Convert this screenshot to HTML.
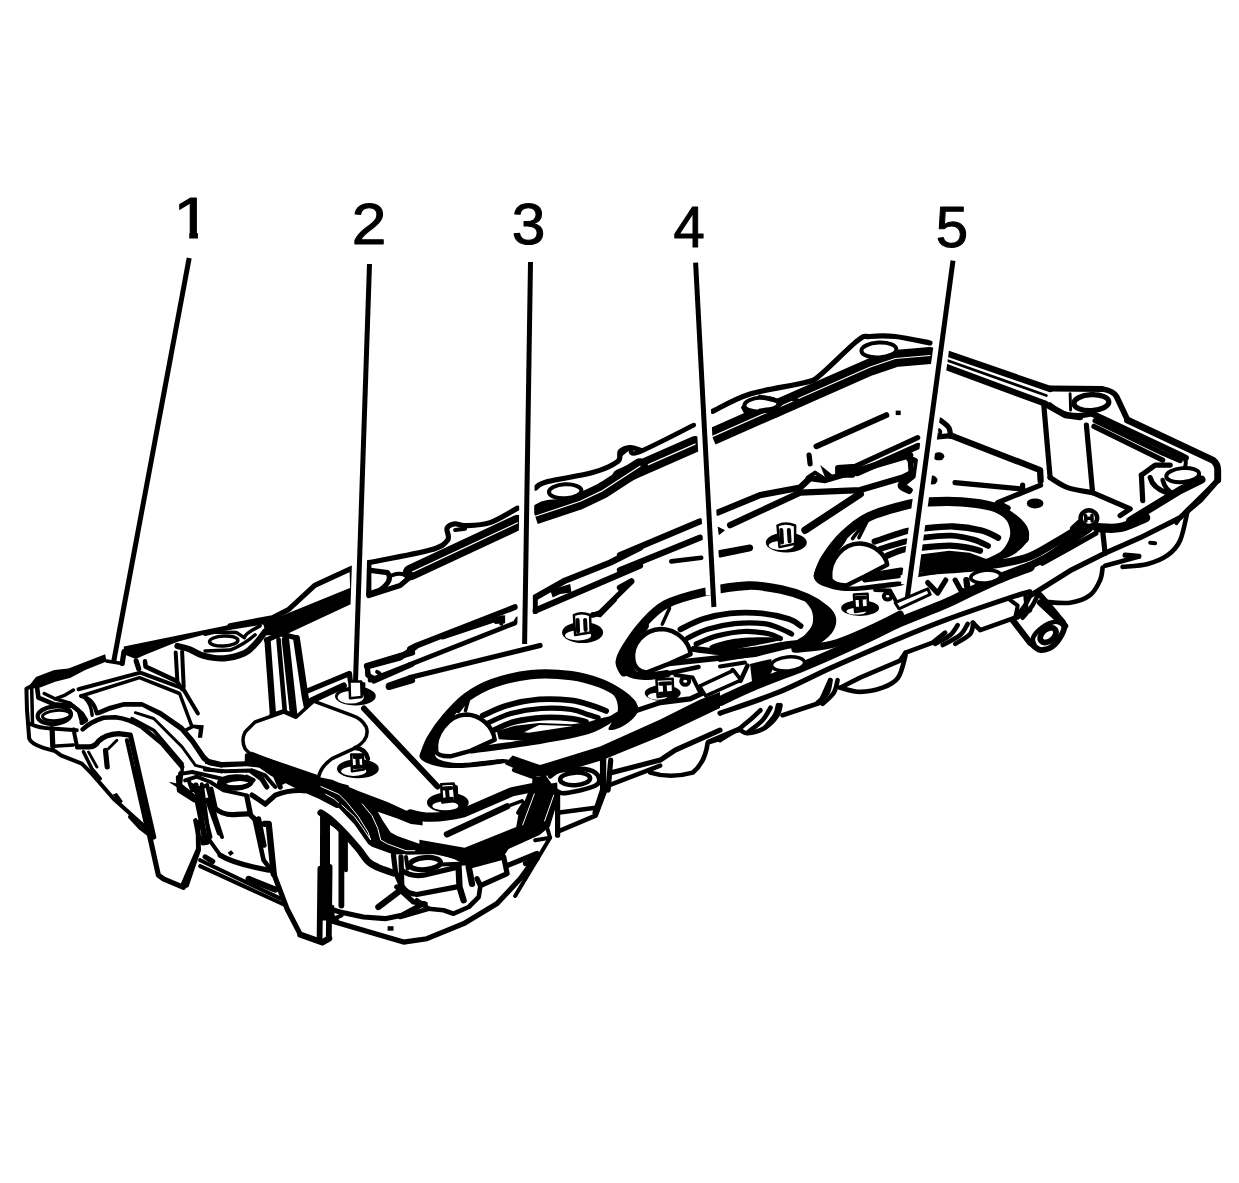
<!DOCTYPE html>
<html><head><meta charset="utf-8"><title>Cylinder head cover</title>
<style>
html,body{margin:0;padding:0;background:#fff;}
body{width:1239px;height:1183px;overflow:hidden;position:relative;font-family:"Liberation Sans",sans-serif;}
svg{position:absolute;left:0;top:0;display:block;}
.lbl{font-family:"Liberation Sans",sans-serif;font-size:56.5px;fill:#000;stroke:#000;stroke-width:1px;stroke-linejoin:round;}
</style></head>
<body>
<svg width="1239" height="1183" viewBox="0 0 1239 1183">
<g fill="none" stroke="#000" stroke-linecap="round" stroke-linejoin="round">
<path d="M 105.2 654.2 L 106.5 661.4 L 85.2 670.1 L 70.1 678.1 L 55.1 681.8 L 40.1 687.6 L 32.5 688.4 L 26.7 688.8 L 31.7 682.6 L 35.9 677.1 L 54.3 670.1 L 68.5 668.4 Z" fill="#000" stroke="none"/>
<path d="M 31.7 685.9 L 26.4 688.8 L 27 710.2 L 29.2 738.6 Q 30.9 743.6 43.4 747.8 L 55.1 751.1 L 60.9 755.3 L 81.8 763.6 L 91.8 773.6 L 113.6 798.7 L 147 828.8 L 153.7 837" stroke-width="4"/>
<path d="M 112.7 794.5 L 116.9 792.9 L 122.8 801.2 L 120.2 804.6 Z" fill="#000" stroke="none"/>
<path d="M 29.2 723.5 Q 40.1 728.5 51.8 728.5 L 76.8 730.2" stroke-width="4"/>
<path d="M 52.1 728.5 L 52.8 746.9" stroke-width="5.2"/>
<path d="M 73.5 729.4 L 77.1 746.9" stroke-width="4"/>
<path d="M 52.8 746.2 L 73.5 744.9" stroke-width="3.5"/>
<path d="M 31.7 688.4 L 32.5 723.5" stroke-width="3.5"/>
<ellipse cx="54.3" cy="715.2" rx="16.7" ry="8.7" stroke-width="4.3" transform="rotate(-5 54.3 715.2)"/>
<ellipse cx="56.4" cy="715.5" rx="14" ry="5" stroke-width="2.9" transform="rotate(-5 56.4 715.5)"/>
<path d="M 37.1 687.6 L 38.4 697.6 L 54.3 704.3 L 72.6 706 L 81.8 713.5 L 86 720.2 L 81.8 722.7" stroke-width="4.6"/>
<path d="M 44.2 693.5 L 55.1 698.8 L 70.1 703.1" stroke-width="3.5"/>
<path d="M 55.1 698.8 L 65.1 695.1 L 73.5 690.1" stroke-width="3.5"/>
<path d="M 70.1 703.5 L 78.5 710.2 L 81.8 721.9" stroke-width="4"/>
<path d="M 81 696 Q 93.5 698.5 96.9 713.5" stroke-width="4"/>
<path d="M 85.2 698.5 Q 91 703.5 92.2 715.2" stroke-width="3.5"/>
<path d="M 78.5 689.3 L 140.3 672.6 L 182.9 688.4 L 197.9 713.5" stroke-width="4"/>
<path d="M 81 696 L 139.5 677.6 L 179.6 693.5 L 192.1 726.9 L 185.4 730.2" stroke-width="3.5"/>
<path d="M 192.1 724.4 L 203.8 725.2 L 202.1 737.7 L 197.9 737.7 L 198.8 729.4 L 192.1 727.7 Z" fill="#000" stroke="none"/>
<path d="M 106.5 660.9 L 121.9 663.4" stroke-width="3.5"/>
<path d="M 145 661.4 L 145.6 666.7 L 176.2 680.9" stroke-width="4.6"/>
<path d="M 175.7 652.5 L 177.4 681.8 L 182.1 689.3" stroke-width="4"/>
<path d="M 182.1 651.7 L 183.7 686.8" stroke-width="4"/>
<path d="M 96.9 711 L 108.6 706 L 123.6 702.1 L 142 702.1 L 161.2 711 L 182.9 726 L 193.8 738.6 L 205.4 755.3 L 210.5 760.3 L 222 762.8 L 222 767.8 L 208.8 765.3 L 202.1 760.3 L 190.4 742.7 L 180.4 731 L 159.5 716 L 142 706.8 L 123.6 706.8 L 109.4 711 L 98.5 715.5 Z" fill="#000" stroke="none"/>
<path d="M 135.3 712.7 L 153.7 718.5 L 182.1 746.9 L 195.4 765.3 L 222 772" stroke-width="2.9"/>
<path d="M 131.9 718.5 L 153.7 730.2 L 182.1 763.6 L 182.1 772" stroke-width="3.5"/>
<path d="M 82.7 729.4 Q 90.2 721.9 103.5 717.7 L 115.2 717.2 Q 128.6 718.5 142 726.9 L 162 743.6 L 182.1 767" stroke-width="4.6"/>
<path d="M 77.6 746.9 L 88.5 746.9 Q 95.2 746.9 98.5 741.1 Q 105.2 734.4 118.6 733.6 L 130.3 735.2 L 153.7 837" stroke-width="5.2"/>
<path d="M 126.9 740.2 L 147 828.8" stroke-width="4"/>
<path d="M 105.5 750.3 L 107.2 767" stroke-width="5.2"/>
<path d="M 108.6 748.6 L 116.9 740.2" stroke-width="2.9"/>
<path d="M 83.5 751.9 L 91.8 768.6 L 100.2 778.7" stroke-width="3.5"/>
<path d="M 88.5 751.9 L 96.9 767" stroke-width="2.9"/>
<path d="M 168.7 782 L 180.4 785.3 L 182.1 790.4 Z" fill="#000" stroke="none"/>
<path d="M 180.7 773.6 L 179.6 785.3 L 192.1 795.4 L 197.1 800.4 L 204.6 837" stroke-width="5.2"/>
<path d="M 182.1 773.6 L 192.1 772 L 222 778.7" stroke-width="4"/>
<path d="M 188.7 780.3 L 192.1 790.4 L 207.1 785.3" stroke-width="4"/>
<path d="M 192.1 785.3 L 198.8 790.4 L 210.5 837" stroke-width="4"/>
<path d="M 207.1 785.3 L 215.5 817.1 L 222 837" stroke-width="4"/>
<path d="M 195.4 820.4 L 198.8 837" stroke-width="4.6"/>
<path d="M 205 634.3 L 215 632.1 L 236.7 632.6 L 244.3 637.6" stroke-width="3.5"/>
<ellipse cx="223.7" cy="641" rx="14.2" ry="5" stroke-width="3.5" transform="rotate(-3 223.7 641)"/>
<path d="M 205 651 L 230.1 650.1 Q 243.4 645.1 255.1 634.8" stroke-width="3.5"/>
<path d="M 244.3 637.6 Q 245.1 633.4 260.1 625.9" stroke-width="3.5"/>
<path d="M 267.5 640.1 L 273 715.3" stroke-width="6.3"/>
<path d="M 278.5 639.3 L 284.9 712" stroke-width="4.6"/>
<path d="M 285.5 640.1 L 293.5 713.6" stroke-width="7.5"/>
<path d="M 296.5 638.4 L 305.2 696.9 L 307.2 706.9" stroke-width="6.9"/>
<path d="M 266.5 640.1 L 280.2 633.8 L 296.9 638.1" stroke-width="5.2"/>
<path d="M 271.8 715.6 L 283.5 711.6 L 296 717.3 L 313.6 708.9" stroke-width="5.2"/>
<path d="M 305.2 691.9 L 349.5 673.5 L 350.3 681" stroke-width="5.2"/>
<path d="M 311.9 700.3 L 343.7 685.6" stroke-width="6.3"/>
<path d="M 283.5 712 L 255.1 722 L 245.1 732 Q 240.9 740.4 245.1 748.7 Q 250.1 755.4 260.1 757.1 L 318.6 777.1 Q 320.3 767.1 332 758.7 L 355.4 747.9 Q 370.4 738.7 366.2 727 Q 362 718.6 352 715.3 L 313.6 701.1 L 296 717.3 Z" fill="#fff" stroke-width="3.5"/>
<ellipse cx="355.4" cy="696.1" rx="20.4" ry="9.5" fill="#000" stroke="none" transform="rotate(0 355.4 696.1)"/>
<ellipse cx="350.7" cy="697.3" rx="13" ry="6.3" fill="#fff" stroke-width="0" transform="rotate(0 350.7 697.3)"/>
<path d="M 349.5 681.5 L 361.2 681.5 L 361.7 696.9 L 350 698.3 Z" fill="#fff" stroke-width="2.5"/>
<path d="M 361.2 681.5 L 365.4 682.7 L 365.4 690.2 L 361.7 691.9 Z" fill="#000" stroke="none"/>
<ellipse cx="357.9" cy="768.8" rx="20.9" ry="9.5" fill="#000" stroke="none" transform="rotate(0 357.9 768.8)"/>
<ellipse cx="353.7" cy="771.3" rx="12.5" ry="4.7" fill="#fff" stroke-width="0" transform="rotate(0 353.7 771.3)"/>
<path d="M 351.2 754.6 L 362.9 754.6 L 363.7 769.6 L 352 771.3 Z" fill="#fff" stroke-width="2.5"/>
<path d="M 354.5 757.1 L 360.4 757.1 M 357.4 757.1 L 357.9 767.1 M 354.5 767.1 L 361.2 766.7" stroke-width="4"/>
<path d="M 355.4 747.9 Q 365.4 748.7 367.9 758.7" stroke-width="4.6"/>
<path d="M 367 666 L 412 652.6" stroke-width="6.3"/>
<path d="M 367 666 L 368.4 675.5 L 373.7 681 L 412 664.3" stroke-width="5.2"/>
<path d="M 377.1 671.9 L 379.6 673.5" stroke-width="4"/>
<path d="M 388.8 686.9 L 412 680.2" stroke-width="6.3"/>
<path d="M 205 757.9 L 221.7 762.1 L 246.8 761.2 L 261.8 763.7 L 262.6 767.9 L 246.8 766.2 L 221.7 767.4 L 205 763.7 Z" fill="#000" stroke="none"/>
<path d="M 246.8 755.4 L 246.8 762.1 L 253.4 758.7 Z" stroke-width="4"/>
<path d="M 205 769.6 L 225 771.3 L 251.8 770.4 L 265.1 775.4 L 275.2 787" stroke-width="4"/>
<ellipse cx="236.7" cy="782.4" rx="14.7" ry="5" stroke-width="4.3" transform="rotate(-3 236.7 782.4)"/>
<path d="M 251.8 771.3 L 261.8 778.8 L 266.8 787" stroke-width="5.2"/>
<path d="M 268.5 764.6 L 271.8 764.6 L 271.8 767.9 L 268.5 767.9 Z" fill="#000" stroke="none"/>
<path d="M 280.2 775.4 L 281.8 782.1 L 295.2 775.4" stroke-width="5.2"/>
<path d="M 271.8 767.1 L 280.2 787" stroke-width="5.2"/>
<path d="M 298.6 782.1 L 311.9 778.8 L 347 787" stroke-width="4"/>
<path d="M 135 770 L 158.4 875.2 L 163.4 878.9 L 183.5 887.3" stroke-width="5.2"/>
<path d="M 180.1 885.3 L 196 848.5 L 195.5 820.1 L 200.2 820.1 L 201 850.2 L 188.5 886.9 L 183.5 888.9 Z" fill="#000" stroke="none"/>
<path d="M 130 816.8 L 140 827.6 L 148.4 834.3" stroke-width="4"/>
<path d="M 169.3 781.7 L 180.1 784.2 L 184.3 791.7 Z" fill="#000" stroke="none"/>
<path d="M 178.4 777.5 L 179.4 790.4 L 194.3 799.7" stroke-width="5.2"/>
<path d="M 185.1 780.4 L 196.8 776.7 L 210.2 782 L 223.6 790.4 L 246.9 795.4" stroke-width="4"/>
<path d="M 191.8 785 Q 193.5 791.7 198.5 792.6" stroke-width="4"/>
<ellipse cx="235.2" cy="782.5" rx="16" ry="6" stroke-width="4.6" transform="rotate(-3 235.2 782.5)"/>
<ellipse cx="237.3" cy="783.4" rx="12.7" ry="3.7" stroke-width="2.9" transform="rotate(-3 237.3 783.4)"/>
<path d="M 246.9 776.7 L 253.6 780 L 250.3 783.4" stroke-width="4"/>
<path d="M 211 789.2 L 215.2 808.4 Q 223.6 815.9 236.9 814.3 L 247.8 813.8" stroke-width="5.2"/>
<path d="M 246.9 796.7 L 250.6 815.1 L 254.5 818.8" stroke-width="5.2"/>
<path d="M 196 785 L 205.2 841.8" stroke-width="5.2"/>
<path d="M 201.8 784.2 L 209.4 840.2 L 220.2 855.2" stroke-width="4"/>
<path d="M 207.7 800.1 L 219.4 833.1" stroke-width="5.2"/>
<path d="M 201.8 837.7 L 207.2 836.8 L 207.7 842.7 L 202.7 843.5 Z" stroke-width="4"/>
<path d="M 220.2 855.2 Q 233.6 863.6 268.7 870.2" stroke-width="5.2"/>
<path d="M 254.5 818.8 L 263.6 860.2 L 273.7 873.6" stroke-width="4.6"/>
<path d="M 258.6 818.8 L 264 845.2" stroke-width="5.2"/>
<path d="M 264.5 823.8 L 268.7 823.8 L 273.7 873.6" stroke-width="6.3"/>
<path d="M 200.2 860.2 L 280.4 898.6" stroke-width="4"/>
<path d="M 200.2 866.1 L 285.4 905.3" stroke-width="4"/>
<path d="M 205.2 856.9 L 212.7 861.5" stroke-width="5.2"/>
<path d="M 248.6 878.9 L 275.3 889.6" stroke-width="6.3"/>
<path d="M 227.7 852.7 L 231.1 850.2 L 233.9 853.2 L 230.2 856 Z" fill="#000" stroke="none"/>
<path d="M 273.7 873.6 L 287 908.7 L 300.4 934.6" stroke-width="5.2"/>
<path d="M 300.4 934.6 L 322.1 942.4 L 329.1 938.4" stroke-width="6.3"/>
<path d="M 320.1 810.9 L 330 816.4 L 330 920.4 L 319.8 920.4 Z" fill="#000" stroke="none"/>
<path d="M 320.4 868.6 L 319.6 939.1" stroke-width="5.8"/>
<path d="M 329.6 866.9 L 328.8 937.1" stroke-width="5.8"/>
<path d="M 329.6 821.8 L 337 826.8" stroke-width="4.6"/>
<path d="M 330.5 905.3 L 333 917 L 337 920.4" stroke-width="4"/>
<path d="M 252 795.1 L 265.3 804.2 L 275.3 795.1 Q 290.4 789.2 307.1 790.9 L 320.4 796.7 L 337 805.4" stroke-width="5.2"/>
<ellipse cx="447.8" cy="802.6" rx="20.9" ry="10" fill="#000" stroke="none" transform="rotate(0 447.8 802.6)"/>
<ellipse cx="445.3" cy="805.9" rx="13" ry="4.3" fill="#fff" stroke-width="0" transform="rotate(0 445.3 805.9)"/>
<path d="M 441.1 784.2 L 453.6 783.4 L 455.3 800.9 L 442.3 802.6 Z" fill="#fff" stroke-width="2.5"/>
<path d="M 453.6 783.4 L 457.8 785.9 L 458.3 798.4 L 455.3 800.9 Z" fill="#000" stroke="none"/>
<path d="M 443.6 788.4 L 451.1 788 M 446.9 788.4 L 447.8 799.2 M 443.6 799.7 L 452 798.7" stroke-width="4"/>
<path d="M 410.2 813.8 Q 430.2 821 463.6 812.8 L 512.1 791.7 L 537 786.7" stroke-width="9.2"/>
<path d="M 513.8 770 L 534.6 777.5 L 533.8 786.7" stroke-width="4"/>
<path d="M 468.7 856 L 537 831" stroke-width="4"/>
<path d="M 446.9 834.3 L 507.1 806.4" stroke-width="6.3"/>
<path d="M 507.1 806.4 L 522.1 800.9" stroke-width="3.5"/>
<path d="M 518.8 812.6 L 524.6 803.4" stroke-width="5.2"/>
<path d="M 341.4 832.1 L 341.4 905.6" stroke-width="5.8"/>
<path d="M 345.9 838.5 L 345.9 870.2" stroke-width="4"/>
<path d="M 330 909 L 340 912 L 363.4 917 L 385.1 918.7 L 401.8 915.3 L 423.6 903.6" stroke-width="5.2"/>
<path d="M 330 920.4 L 403.5 942.1 L 426.9 938.7 L 463.6 923.7 L 497.1 903.6 L 520.4 878.6 L 531.3 863.6" stroke-width="5.2"/>
<path d="M 330 920.4 L 341.7 915.3" stroke-width="4"/>
<path d="M 329.2 905.3 L 334.2 905.3 L 334.2 920.4 L 329.2 920.4 Z" fill="#000" stroke="none"/>
<path d="M 393.5 855.2 L 395.5 871.9 L 401.8 886.9" stroke-width="5.2"/>
<path d="M 401 856.9 L 401.8 885.3 Q 405.2 893.6 416.9 894.5 L 457 886.9" stroke-width="5.2"/>
<path d="M 401.8 870.2 Q 410.2 876.9 423.6 875.2 L 458.6 866.9" stroke-width="5.2"/>
<path d="M 406 856.9 L 407.7 868.6" stroke-width="4"/>
<ellipse cx="425.2" cy="863.6" rx="15.4" ry="6" stroke-width="5.2" transform="rotate(-5 425.2 863.6)"/>
<path d="M 406.8 852.7 L 436.9 851.9 L 453.6 856.9" stroke-width="4"/>
<path d="M 440.3 864.4 L 465.3 863.6" stroke-width="4"/>
<path d="M 458.6 866.9 L 459.5 886.9 L 463.6 900.3" stroke-width="6.3"/>
<path d="M 468.7 866.9 L 472 883.9" stroke-width="6.3"/>
<path d="M 472 865.6 L 503.7 856.9 L 507.1 873.6 L 480.4 885.6 L 477 878.6" stroke-width="5.2"/>
<path d="M 507.1 865.6 L 537 853.5" stroke-width="5.2"/>
<path d="M 480.4 885.6 L 478.7 897 L 468.7 907 L 453.6 913.7 L 443.6 910.3 L 428.6 908.7 L 416.9 900.3" stroke-width="4.6"/>
<path d="M 428.6 908.7 L 400.2 917" stroke-width="4.6"/>
<path d="M 378.4 907 L 400.2 890.6" stroke-width="6.3"/>
<path d="M 396.8 886.9 L 413.5 902 L 425.2 904" stroke-width="5.2"/>
<path d="M 387.6 926.2 L 393.5 926.2 L 393.5 930.7 L 387.6 930.7 Z" fill="#000" stroke="none"/>
<path d="M 525.5 863.6 L 537 858.5" stroke-width="5.2"/>
<path d="M 251.4 751.5 L 300 771 L 314.6 776.3 L 332.1 779.7 L 358.4 790.9 L 387.5 802.1 L 411.9 813.3 L 420 812 L 422.6 812.8 L 422.6 825.4 L 420 825 L 410.9 824 L 397.3 818.6 L 377.8 811.8 L 382.7 820.6 L 390.5 832.3 L 397.3 836.1 L 412.8 841.5 L 420 843.9 L 422.6 844.4 L 422.6 852.7 L 420 853.7 L 393.4 854.6 L 372 846.8 L 368.1 843.9 L 354.5 824.5 L 338.9 807.9 L 324.3 799.2 L 309.7 791.9 L 300 790.4 L 270.8 775.8 L 251.4 762.2 Z" fill="#000" stroke="none"/>
<path d="M 320.9 786.5 L 338.9 794.3 L 346.7 802.1 L 358.4 816.7 L 368.1 832.3 L 370.5 839.6" stroke="#fff" stroke-width="1"/>
<path d="M 325.8 794.3 L 334 798.7 L 338.4 802.6" stroke="#fff" stroke-width="1"/>
<path d="M 341.8 805 L 354.5 816.7 L 362.3 827.4 L 370.5 839.6" stroke="#fff" stroke-width="1"/>
<path d="M 362.3 804 L 372 815.7 L 377.8 828.4 L 380.7 840 L 387.5 843.9 L 406 850.7 L 414.8 850.7" stroke="#fff" stroke-width="1"/>
<path d="M 320.9 812.8 C 322.6 814 327.3 816.9 331.1 820.1 C 334.9 823.3 339.2 827.5 343.8 832.3 C 348.3 837 354.3 843.9 358.4 848.8 C 362.4 853.7 364.9 858.4 368.1 861.4 C 371.3 864.5 373.6 865.3 377.8 867.3 C 382 869.2 390.8 872.1 393.4 873.1" stroke-width="6.9"/>
<path d="M 410 648.8 L 415 646.3 L 515.1 607" stroke-width="5.8"/>
<path d="M 442.5 637.5 L 502.6 617.5 L 501.3 623.8" stroke-width="4"/>
<path d="M 410 664.5 L 515.1 623 L 517.6 618.8" stroke-width="4.6"/>
<path d="M 410 677.6 L 540.1 645.5" stroke-width="5.2"/>
<ellipse cx="582.6" cy="632.5" rx="20.5" ry="10.5" fill="#000" stroke="none" transform="rotate(0 582.6 632.5)"/>
<ellipse cx="578.1" cy="635.5" rx="13" ry="5" fill="#fff" stroke-width="0" transform="rotate(0 578.1 635.5)"/>
<path d="M 573.9 615 Q 581.4 611.3 590.1 615 L 590.6 632.5 L 575.1 635 Z" fill="#fff" stroke-width="2.5"/>
<path d="M 577.6 620 L 578.1 631.3 M 585.1 620 L 585.6 630" stroke-width="4"/>
<path d="M 592.6 613.8 L 600.1 615.5 L 615.2 600" stroke-width="3.5"/>
<ellipse cx="662.7" cy="693.1" rx="18" ry="8" fill="#000" stroke="none" transform="rotate(0 662.7 693.1)"/>
<ellipse cx="657.7" cy="696.3" rx="10" ry="3.5" fill="#fff" stroke-width="0" transform="rotate(0 657.7 696.3)"/>
<path d="M 656.4 679.6 L 672.7 678.8 L 673.2 695.1 L 657.7 697.1 Z" fill="#fff" stroke-width="2.5"/>
<path d="M 660.2 683.8 L 670.2 683.3 M 664.7 683.8 L 665.2 693.8 M 660.2 693.8 L 671.4 693.1" stroke-width="4"/>
<ellipse cx="685.2" cy="681.3" rx="4" ry="3.5" stroke-width="4" transform="rotate(0 685.2 681.3)"/>
<path d="M 675.2 675.1 L 692.7 677.6 L 700.2 692.6" stroke-width="4"/>
<path d="M 512.6 755.6 L 540.1 765.1 L 600.1 746.4 L 660.2 719.6 L 700.2 699.6 L 720 692.1 L 720 708.1 L 660.2 736.4 L 602.6 760.1 L 550.1 775.6 L 532.6 777.1 L 504.6 763.9 Z" fill="#000" stroke="none"/>
<path d="M 637.7 710.1 L 660.2 702.6 L 690.2 698.8 L 720 685.1" stroke-width="5.2"/>
<ellipse cx="575.1" cy="778.9" rx="15" ry="6.3" stroke-width="4.6" transform="rotate(-3 575.1 778.9)"/>
<path d="M 550.1 776.4 C 551.8 775.4 554.3 771.8 560.1 770.6 C 566 769.4 578.9 768.4 585.1 769.1 C 591.4 769.9 595.9 772.4 597.6 775.1 C 599.4 777.9 601.1 782.6 595.6 785.6 C 590.2 788.6 571.7 792.3 565.1 793.1 C 558.6 794 557.8 791.1 556.4 790.6" stroke-width="4.6"/>
<path d="M 603.1 756.4 L 603.1 790.1 L 595.6 812.7" stroke-width="6.3"/>
<path d="M 610.7 760.1 L 608.1 790.1" stroke-width="5.2"/>
<path d="M 557.6 793.1 L 557.6 835.2" stroke-width="5.2"/>
<path d="M 557.6 812.7 L 595.6 807.7" stroke-width="4.6"/>
<path d="M 560.1 830.7 L 595.6 815.7 L 605.1 790.6" stroke-width="4.6"/>
<path d="M 535.1 840.2 L 550.1 837.7 L 515.1 896" stroke-width="4"/>
<path d="M 546.4 825.2 L 550.1 837.7" stroke-width="4"/>
<path d="M 610.2 773.1 L 660.2 760.1 L 675.2 750.1 L 720 730.1" stroke-width="5.2"/>
<path d="M 608.1 785.6 L 660.2 765.6" stroke-width="4.6"/>
<path d="M 650.2 772.6 Q 670.2 778.9 692.7 772.6 Q 705.2 762.6 707.7 742.6 L 720 738.9" stroke-width="4.6"/>
<path d="M 720 701.2 C 725.4 698.7 738.8 691.9 752.5 686.2 C 766.3 680.4 790.1 671.6 802.6 666.6 C 815.1 661.6 816.3 661.1 827.6 656.1 C 838.8 651.1 858 642.3 870.1 636.6 C 882.2 630.9 887.6 627.6 900.1 622.1 C 912.6 616.6 933.5 608.9 945.2 603.8 C 956.8 598.8 961 596.1 970.2 591.8 C 979.4 587.5 990.2 582.2 1000.2 578.1 C 1010.2 573.9 1025 568.7 1030 566.8" stroke-width="9.8"/>
<path d="M 795.1 649.1 C 801.3 648.3 820.1 647.5 832.6 644.1 C 845.1 640.8 858.9 634.1 870.1 629.1 C 881.4 624.1 895.1 616.8 900.1 614.4" stroke-width="7.5"/>
<ellipse cx="788.1" cy="663.9" rx="16.5" ry="7" fill="#fff" stroke-width="3.5" transform="rotate(-5 788.1 663.9)"/>
<path d="M 750 663.9 L 771.3 658.9 L 772.5 670.1 L 767.5 680.2 L 752.5 685.2 Z" fill="#000" stroke="none"/>
<path d="M 732.5 670.1 L 740.5 680.7 L 747.5 665.6" stroke-width="4.6"/>
<path d="M 720 660.1 L 750 655.1" stroke-width="4"/>
<path d="M 720 666.4 L 745 662.6" stroke-width="4"/>
<path d="M 720 713.2 C 729.6 709.8 758.8 700.3 777.5 692.7 C 796.3 685 813 675.9 832.6 667.1 C 852.2 658.4 876.4 648 895.1 640.1 C 913.9 632.3 926 627.2 945.2 620.1 C 964.3 613 996.1 602.3 1010.2 597.6 C 1024.4 592.9 1026.7 592.8 1030 591.8" stroke-width="5.2"/>
<ellipse cx="860.1" cy="608.1" rx="19" ry="7.8" fill="#000" stroke="none" transform="rotate(0 860.1 608.1)"/>
<ellipse cx="856.4" cy="611.3" rx="10" ry="3.3" fill="#fff" stroke-width="0" transform="rotate(0 856.4 611.3)"/>
<path d="M 853.9 594.6 L 867.6 593.8 L 868.1 610.1 L 855.1 612.1 Z" fill="#fff" stroke-width="2.5"/>
<path d="M 856.4 598.1 L 865.1 597.6 M 860.6 598.1 L 861.1 608.8 M 856.4 608.8 L 866.4 608.1" stroke-width="4"/>
<ellipse cx="887.6" cy="596.3" rx="3.8" ry="3.3" stroke-width="4" transform="rotate(0 887.6 596.3)"/>
<path d="M 875.1 590.1 L 890.1 590.6 L 895.6 600.6" stroke-width="4"/>
<path d="M 895.1 602.6 L 927.7 588.8 L 930.2 594.3 L 898.9 608.8 Z" fill="#fff" stroke-width="3"/>
<ellipse cx="786.3" cy="542.5" rx="20.5" ry="10" fill="#000" stroke="none" transform="rotate(0 786.3 542.5)"/>
<ellipse cx="781.3" cy="545.5" rx="12.5" ry="4.5" fill="#fff" stroke-width="0" transform="rotate(0 781.3 545.5)"/>
<path d="M 777.5 525.5 Q 785.5 521.3 795.1 525.5 L 795.1 543.8 L 779.5 547.1 Z" fill="#fff" stroke-width="2.5"/>
<path d="M 781.3 530 L 782 542.5 M 788.8 530 L 789.6 541.3" stroke-width="4"/>
<path d="M 720 553.1 L 750 547.6" stroke-width="6.3"/>
<ellipse cx="985.7" cy="576.6" rx="15" ry="6.3" fill="#fff" stroke-width="3.5" transform="rotate(-5 985.7 576.6)"/>
<path d="M 955.2 580.1 L 960.7 590.1 L 970.2 593.1" stroke-width="5.2"/>
<path d="M 966.4 580.1 L 967.7 590.1" stroke-width="6.3"/>
<path d="M 927.7 582.6 L 937.7 593.1 L 945.7 580.1" stroke-width="5.2"/>
<path d="M 720 740.2 C 722.9 738.5 732.9 731.4 737.5 730.2 C 742.1 729 742.9 733.6 747.5 733.2 C 752.1 732.8 760 730.7 765 727.7 C 770 724.7 775 718.9 777.5 715.2 C 780.1 711.4 780 706.8 780.5 705.2" stroke-width="4.6"/>
<path d="M 782.5 715.2 L 820.1 702.7 L 830.1 680.2" stroke-width="4.6"/>
<path d="M 840.1 687.7 L 860.1 677.6 L 900.1 660.6 L 905.6 652.6" stroke-width="4.6"/>
<path d="M 840.1 687.7 C 843.4 688.4 853 691.9 860.1 691.9 C 867.2 691.9 876.3 690 882.6 687.7 C 889 685.3 894.3 683.1 898.1 677.6 C 902 672.2 904.4 658.9 905.6 655.1" stroke-width="4.6"/>
<path d="M 905.6 652.6 L 932.7 642.6 L 945.2 632.6" stroke-width="4.6"/>
<path d="M 972.7 622.6 L 980.2 630.1 L 1015.2 617.6 L 1030 610.1" stroke-width="4.6"/>
<path d="M 737.5 730.2 C 740 728.1 748.7 721 752.5 717.7 C 756.4 714.3 759.2 711.4 760.5 710.2" stroke-width="4.6"/>
<path d="M 747.5 732.7 C 750 730.6 758.7 724.3 762.5 720.2 C 766.4 716 769.2 709.8 770.5 707.7" stroke-width="4.6"/>
<path d="M 765 727.7 C 766.7 725.6 772.9 718.9 775 715.2 C 777.2 711.4 777.5 706.8 778 705.2" stroke-width="4.6"/>
<path d="M 817.6 702.7 C 819.2 701 825.4 696.4 827.6 692.7 C 829.7 688.9 830.1 682.2 830.6 680.2" stroke-width="4.6"/>
<path d="M 822.6 703.9 C 824.5 702 831.3 696.6 833.8 692.7 C 836.3 688.7 837 682.2 837.6 680.2" stroke-width="4.6"/>
<path d="M 935.2 643.9 C 937.7 642.4 946.4 638.2 950.2 635.1 C 953.9 632 956.4 626.8 957.7 625.1" stroke-width="4.6"/>
<path d="M 942.7 645.1 C 945.6 643.5 956 638.7 960.2 635.1 C 964.3 631.6 966.4 625.7 967.7 623.9" stroke-width="4.6"/>
<path d="M 955.2 643.9 C 957.7 642.2 967.2 637.4 970.2 633.9 C 973.2 630.3 972.7 624.5 973.2 622.6" stroke-width="4.6"/>
<path d="M 1012.7 620.1 L 1030 642.6" stroke-width="6.3"/>
<path d="M 1010.2 600.1 L 1017.7 605.6 L 1015.2 617.6" stroke-width="4"/>
<path d="M 1025.2 595.1 L 1026.7 610.1 L 1017.7 617.6" stroke-width="4"/>
<path d="M 948 353.8 L 1050.1 389" stroke-width="6.3"/>
<path d="M 946.3 367 L 1043.8 403.1 L 1065.1 415.1 L 1080.1 417.1" stroke-width="6.3"/>
<path d="M 947.5 360.5 L 1046.3 395.5" stroke-width="2.9"/>
<path d="M 1050.1 388.5 L 1102.6 389 Q 1113.9 391.3 1116.4 396.3 L 1127.6 420.1" stroke-width="5.8"/>
<path d="M 1127.6 420.1 L 1212.7 460.1 Q 1217.7 463.9 1217.7 470.1 L 1217.7 480.1" stroke-width="6.9"/>
<path d="M 1217.7 480.1 L 1200.2 500.1 L 1187.7 510.6" stroke-width="5.8"/>
<ellipse cx="1091.4" cy="402.6" rx="17.5" ry="8" stroke-width="5.2" transform="rotate(-3 1091.4 402.6)"/>
<path d="M 1070.1 393.8 L 1070.6 410.1" stroke-width="2.9"/>
<path d="M 1050.1 405.1 Q 1065.1 420.1 1092.6 413.8" stroke-width="5.2"/>
<path d="M 1092.6 413.8 L 1180.2 455.1 L 1185.7 458.1" stroke-width="6.3"/>
<path d="M 1095.1 420.6 L 1162.7 453.1 L 1180.2 460.6" stroke-width="5.2"/>
<ellipse cx="1182.7" cy="475.1" rx="16.5" ry="7" fill="#fff" stroke-width="4" transform="rotate(-5 1182.7 475.1)"/>
<path d="M 1141.4 475.1 L 1155.2 465.1 L 1170.2 465.1" stroke-width="5.2"/>
<path d="M 1141.4 475.1 L 1142.7 500.6" stroke-width="5.2"/>
<path d="M 1150.2 477.6 Q 1152.7 487.6 1166.4 492.6" stroke-width="5.2"/>
<path d="M 1162.7 480.1 Q 1165.2 490.1 1173.9 493.9" stroke-width="4.6"/>
<path d="M 1180.2 457.6 Q 1187.7 457.6 1185.2 466.4" stroke-width="4"/>
<path d="M 1043.8 405.1 L 1050.1 477.6" stroke-width="5.2"/>
<path d="M 1086.4 425.1 L 1092.6 492.6" stroke-width="5.2"/>
<path d="M 1093.9 426.3 L 1162.7 460.1" stroke-width="5.2"/>
<path d="M 1050.1 477.6 C 1053 479.3 1060.5 485.1 1067.6 487.6 C 1074.7 490.1 1088.5 491.8 1092.6 492.6" stroke-width="5.2"/>
<path d="M 1092.6 492.6 L 1130.2 508.9 L 1120.1 515.6" stroke-width="5.2"/>
<path d="M 951.3 435.6 L 1040.1 470.1 L 1040.6 480.6" stroke-width="6.3"/>
<path d="M 1040.6 485.1 L 997.6 502.6 L 1008.1 508.1" stroke-width="5.2"/>
<path d="M 955 482.6 L 1022.6 489.1 L 1022.6 485.1" stroke-width="5.2"/>
<ellipse cx="1035.1" cy="503.4" rx="8.3" ry="5" fill="#000" stroke="none" transform="rotate(0 1035.1 503.4)"/>
<ellipse cx="938.8" cy="456.3" rx="5.5" ry="4" fill="#000" stroke="none" transform="rotate(0 938.8 456.3)"/>
<ellipse cx="932" cy="480.1" rx="5.5" ry="4.5" fill="#000" stroke="none" transform="rotate(0 932 480.1)"/>
<path d="M 940 420.1 C 941.5 421.3 947 424.9 948.8 427.6 C 950.5 430.3 950.2 434.9 950.5 436.3" stroke-width="5.2"/>
<ellipse cx="938" cy="432.1" rx="2.5" ry="2.3" stroke-width="3.5" transform="rotate(0 938 432.1)"/>
<path d="M 930 437.6 L 951.3 435.6" stroke-width="5.2"/>
<ellipse cx="1088.9" cy="518.1" rx="8.3" ry="7.8" fill="#fff" stroke-width="4.5" transform="rotate(0 1088.9 518.1)"/>
<path d="M 1085.6 515.6 L 1085.9 521.1 M 1091.9 515.4 L 1092.1 520.9 M 1085.9 518.4 L 1091.9 518.1" stroke-width="3.5"/>
<path d="M 1072.6 528.1 L 1080.1 521.4" stroke-width="5.2"/>
<path d="M 1130.2 520.6 L 1180.2 490.1 L 1201.5 479.6" stroke-width="8"/>
<path d="M 1097.1 527.6 C 1101 527.6 1112.1 529.3 1120.1 527.6 C 1128.2 526 1141.4 519.3 1145.7 517.6" stroke-width="9.2"/>
<path d="M 1080.1 527.6 C 1075.9 530.2 1064.3 537.6 1055.1 542.7 C 1045.9 547.7 1037.6 554.2 1025.1 558.2 C 1012.6 562.2 995.9 564.6 980 566.7 C 964.2 568.8 938.3 570 930 570.7" stroke-width="8"/>
<path d="M 1102.6 530.2 L 1105.1 553.2" stroke-width="5.2"/>
<path d="M 1212.7 485.6 L 1180.2 517.6 L 1140.2 537.7 L 1105.1 553.2 L 1070.1 570.7 L 1030.1 595.7" stroke-width="5.2"/>
<path d="M 1187.7 510.6 C 1186.4 515.6 1183.5 532.7 1180.2 540.2 C 1176.9 547.6 1173.1 551.2 1167.7 555.2 C 1162.3 559.1 1155.2 562 1147.7 563.9 C 1140.2 565.9 1126.8 566.4 1122.6 566.9" stroke-width="4.6"/>
<path d="M 1105.1 565.7 L 1138.2 556.7" stroke-width="4.6"/>
<path d="M 1102.6 567.7 C 1102.2 569.8 1102.2 575.6 1100.1 580.2 C 1098 584.8 1095.1 591.4 1090.1 595.2 C 1085.1 599 1077.6 601.6 1070.1 602.7 C 1062.6 603.8 1049.3 601.9 1045.1 601.7" stroke-width="4.6"/>
<path d="M 1180.2 517.6 L 1176.4 523.1" stroke-width="4"/>
<path d="M 1125.1 555.2 L 1138.9 556.4" stroke-width="5.2"/>
<path d="M 1015.1 617.7 C 1016.7 615.6 1022.6 608.9 1025.1 605.2 C 1027.6 601.5 1029.2 597.3 1030.1 595.7" stroke-width="4.6"/>
<path d="M 1022.6 617.7 C 1024.2 615.6 1030.1 609 1032.6 605.2 C 1035.1 601.5 1036.7 596.9 1037.6 595.2" stroke-width="4.6"/>
<path d="M 1040.1 602.7 L 1065.1 626" stroke-width="6.3"/>
<path d="M 1150.2 542.7 L 1155.2 543.2" stroke-width="4"/>
<path d="M 1030.1 642.6 C 1030.9 643.3 1033.2 645.8 1035.1 647.1 C 1037 648.3 1038.5 650.2 1041.4 650.1 C 1044.3 649.9 1049.2 649 1052.6 646.3 C 1056.1 643.6 1060.2 637.4 1062.1 633.8 C 1064.1 630.2 1064.8 627.4 1064.1 624.5 C 1063.5 621.7 1062.1 621.5 1058.1 616.5 C 1054.1 611.6 1043.1 598.6 1040.1 595" stroke-width="5.8"/>
<ellipse cx="1048.1" cy="635.1" rx="9" ry="6" stroke-width="5.8" transform="rotate(-40 1048.1 635.1)"/>
<path d="M 1035.1 646.3 C 1034.8 644.9 1031.9 640.8 1033.1 637.6 C 1034.4 634.3 1039 629.7 1042.6 627.1 C 1046.3 624.4 1051.6 622.2 1055.1 621.8 C 1058.7 621.4 1062.4 624.1 1063.9 624.5" stroke-width="4.6"/>
<path d="M 712.6 411.3 C 718.8 408.4 734.7 398.8 750.1 394 C 765.5 389.3 793.5 385.7 805.1 382.5 C 816.8 379.4 811.4 382 820.2 375 C 828.9 368 849.3 346.9 857.7 340.5 C 866 334.1 863.9 337.2 870.2 336.5 C 876.4 335.8 885.2 335.4 895.2 336.5 C 905.2 337.6 924.2 341.9 930 343" stroke-width="5.2"/>
<path d="M 743.8 407.6 C 744.9 408.8 745.7 413.6 750.1 415.1 C 754.5 416.6 764.3 417.4 770.1 416.6 C 776 415.7 781 412.4 785.1 410.1 C 789.3 407.7 792.5 404.2 795.1 402.6 C 797.7 400.9 799.7 400.5 800.6 400.1" stroke-width="5.2"/>
<path d="M 620 455.1 C 621.7 453.8 627.1 448 630 447.6 C 632.9 447.2 626.9 456.3 637.5 452.6 C 648.1 448.8 684.4 429.7 693.8 425.1" stroke-width="4.6"/>
<path d="M 620 477.1 L 695.1 444.1" stroke-width="16.1"/>
<path d="M 620 477.1 L 695.1 444.1" stroke="#fff" stroke-width="1.2"/>
<path d="M 712.1 436.6 L 800.1 397.8" stroke-width="17.2" stroke-linecap="butt"/>
<path d="M 800.1 397.8 L 870.2 367 L 895.2 358.5 L 930 355.5" stroke-width="17.2"/>
<path d="M 712.1 436.6 L 800.1 397.8 L 870.2 367 L 895.2 358.5 L 930 355.5" stroke="#fff" stroke-width="1.2"/>
<ellipse cx="761.4" cy="404.6" rx="17" ry="7" fill="#fff" stroke-width="4" transform="rotate(-3 761.4 404.6)"/>
<ellipse cx="878.9" cy="350" rx="17.5" ry="7.5" fill="#fff" stroke-width="4" transform="rotate(-3 878.9 350)"/>
<path d="M 816.4 446.3 L 886.4 415.1" stroke-width="5.8"/>
<path d="M 895.7 410.6 L 900.7 410.6 L 900.7 415.1 L 895.7 415.1 Z" fill="#000" stroke="none"/>
<path d="M 809.1 455.1 L 810.1 463.9" stroke-width="5.2"/>
<path d="M 917.7 437.6 L 855.2 466.4 L 837.7 467.6 L 837.7 475.1 L 852.7 475.1" stroke-width="5.2"/>
<path d="M 820.2 465.1 L 832.7 475.1 L 825.2 478.1 Z" fill="#000" stroke="none"/>
<path d="M 807.6 477.6 L 815.1 472.6 L 822.7 477.6" stroke-width="4"/>
<path d="M 717.6 512.6 L 760.1 495.1 L 800.1 487.6 L 810.1 478.1 L 825.2 480.1 L 910.2 455.1" stroke-width="6.3"/>
<path d="M 730.1 525.1 L 800.1 492.6 L 860.2 490.1 L 902.7 477.6 L 917.7 470.1" stroke-width="6.3"/>
<path d="M 805.1 530.2 L 860.2 493.9" stroke-width="7.5"/>
<path d="M 910.2 460.1 L 911.5 477.6 L 902.7 485.1 L 910.2 490.1" stroke-width="5.2"/>
<path d="M 620 555.2 L 700.1 521.4" stroke-width="6.3"/>
<path d="M 620 570.2 L 700.1 537.7" stroke-width="6.3"/>
<path d="M 717.6 526.4 L 725.1 530.2 L 718.8 535.2 Z" fill="#000" stroke="none"/>
<path d="M 671.3 561.4 L 701.3 557.7" stroke-width="4.6"/>
<path d="M 720.1 555.2 L 750.1 548.9" stroke-width="4.6"/>
<path d="M 620 587.7 L 631.3 581.4" stroke-width="6.3"/>
<path d="M 368.8 562.6 C 379 560.5 416.9 553.9 430.1 550.1 C 443.2 546.4 444.8 543.8 447.6 540.1 C 450.4 536.4 445.8 530.8 447.1 528.1 C 448.3 525.4 452.1 524.3 455.1 523.8 C 458.1 523.4 459.3 525.8 465.1 525.6 C 470.9 525.4 481.4 525.5 490.1 522.6 C 498.9 519.7 513.1 510.5 517.6 508.1" stroke-width="5.2"/>
<path d="M 535.2 488.1 C 537.2 487 538.1 484.1 547.7 481.6 C 557.3 479 581 475.9 592.7 472.6 C 604.4 469.2 613.1 465 617.7 461.5 C 622.3 458 618.1 453.9 620.2 451.5 C 622.3 449.2 626.9 447.8 630.2 447.5 C 633.5 447.3 638.4 449.6 640 450" stroke-width="5.2"/>
<path d="M 455.1 530.1 L 465.1 528.8" stroke-width="4"/>
<path d="M 535.2 507.6 C 537.2 506.7 540.2 503.8 547.7 502.6 C 555.2 501.3 572.7 501.7 580.2 500.1 C 587.7 498.4 589.3 495.1 592.7 492.6 C 596.1 490.1 599.4 486.3 600.7 485.1" stroke-width="5.2"/>
<path d="M 410.6 572.6 L 517.6 522.6" stroke-width="15.5"/>
<path d="M 412.6 571.9 L 517.6 522.8" stroke="#fff" stroke-width="1.2"/>
<path d="M 368.8 570.1 L 387.5 572.6 Q 393.8 580.1 380 590.1 L 368.8 593.9" stroke-width="5.2"/>
<path d="M 368.8 562.6 L 368.8 595.6 L 400.1 585.6 L 412.6 575.1" stroke-width="5.2"/>
<path d="M 392.5 575.1 Q 400.1 572.6 405.1 575.1" stroke-width="4"/>
<path d="M 535.2 516.3 L 580.2 501.3" stroke-width="16.1" stroke-linecap="butt"/>
<path d="M 580.2 501.3 L 602.7 490.6 L 640 466.3" stroke-width="16.1"/>
<path d="M 535.2 516.3 L 580.2 501.3 L 602.7 490.6 L 640 466.3" stroke="#fff" stroke-width="1.2"/>
<ellipse cx="565.2" cy="491.3" rx="16.3" ry="7" fill="#fff" stroke-width="4" transform="rotate(-3 565.2 491.3)"/>
<path d="M 367.5 666.4 L 400.1 657.7 L 415.1 647.2" stroke-width="5.8"/>
<path d="M 370 680.2 L 410.1 664.4" stroke-width="4.6"/>
<path d="M 367.5 666.4 L 367.5 675.2 L 376.3 679.2" stroke-width="4.6"/>
<path d="M 388.8 685.2 L 410.1 677.7" stroke-width="5.2"/>
<path d="M 490.1 617.7 L 505.1 615.2 L 505.1 623.2 L 495.1 623.9 Z" fill="#000" stroke="none"/>
<path d="M 535.2 597.6 L 565.2 580.6 L 610.2 562.6 L 640 547.6" stroke-width="6.3"/>
<path d="M 535.2 610.7 L 640 565.6" stroke-width="6.3"/>
<path d="M 535.2 597.6 L 535.2 611.4" stroke-width="5.2"/>
<path d="M 550.2 590.1 L 570.2 583.9 L 571.4 592.6 L 560.2 593.9 L 552.7 597.6 Z" fill="#000" stroke="none"/>
<path d="M 592.7 615.2 L 600.2 612.7 L 630.2 583.1" stroke-width="5.2"/>
<path d="M 533.2 778.1 L 545.5 774.9 L 551.4 783.6 L 557.2 782.4 L 557.5 791.1 L 528.8 791.1 L 532.5 786.8 Z" fill="#000" stroke="none"/>
<path d="M 419.4 839.7 L 464.6 847.7 L 516.2 827.1 L 518.2 815.8 L 523.3 804.2 L 529.1 790 L 559.5 790 L 555 809.4 L 549.8 826.8 L 539.5 834.9 L 508.5 849.1 L 503.3 857.1 L 469.7 867.2 L 451.7 857.8 L 419.4 851.3 Z" fill="#000" stroke="none"/>
<path d="M 534.3 793.9 L 522.7 824.9" stroke="#fff" stroke-width="1"/>
<path d="M 553.7 795.2 L 544.6 821" stroke="#fff" stroke-width="1"/>
<path d="M 123.8 646.5 L 267.9 617 L 280.8 613.4 L 286.5 622.7 L 267.9 623.8 L 244.6 627.4 L 208.5 633.6 L 177.5 641.8 L 145.2 654.8 L 135.6 658.9 L 123.8 654.2 Z" fill="#000" stroke="none"/>
<path d="M 122.2 663.5 L 124 651.7" stroke-width="5.2"/>
<path d="M 136.2 661 L 138.7 668.7" stroke-width="5.2"/>
<path d="M 177.5 646 C 179.4 646.5 184.8 647.4 189.1 649.1 C 193.4 650.7 197.5 654.2 203.3 655.8 C 209.1 657.3 217.1 658.8 224 658.4 C 230.9 657.9 239.4 655.6 244.6 653.2 C 249.9 650.8 252 647.5 255.5 643.9 C 258.9 640.3 263.7 633.6 265.3 631.5" stroke-width="6.3"/>
<path d="M 708.3 741.8 L 740.2 728.4" stroke-width="4.6"/>
<path d="M 623.9 672.2 C 623.2 670.5 619.5 666.1 619.8 662 C 620.1 658 621.8 654.4 625.7 648 C 629.6 641.7 636.4 631.3 643.1 624.1 C 649.8 616.8 655.7 609.7 665.7 604.4 C 675.7 599.1 689.2 595.6 703 592.4 C 716.7 589.3 735 586.1 748.2 585.6 C 761.4 585.2 772.3 587.7 782.1 589.7 C 791.9 591.7 799.8 594.4 806.9 597.6 C 814.1 600.8 820.9 605.4 825 608.9 C 829.2 612.4 831.2 615.1 831.8 618.6 C 832.4 622.2 831.1 626.6 828.4 630.4 C 825.8 634.2 818.1 639.4 816 641.2" stroke-width="8.6"/>
<path d="M 620.5 663.2 C 621.6 664.7 623.3 670 627.3 672.2 C 631.2 674.4 637.6 676 644.2 676.3 C 650.8 676.5 663.1 674.2 666.8 673.8" stroke-width="7.5"/>
<path d="M 666.8 673.8 L 698.5 667" stroke-width="4.6"/>
<path d="M 802.4 596.5 C 804.7 596.1 819.8 604.2 825 607.8 C 830.3 611.4 833.2 614.1 834.1 618 C 834.9 621.8 833.4 626.5 830 630.8 C 826.6 635.2 820.6 641.5 813.7 644 C 806.9 646.4 790.4 647.3 788.9 645.8 C 787.4 644.3 800.7 638.6 804.7 634.9 C 808.6 631.2 811.5 627.8 812.6 623.6 C 813.7 619.5 813.2 614.6 811.5 610.1 C 809.8 605.5 800.2 596.9 802.4 596.5 Z" fill="#000" stroke="none"/>
<path d="M 617.1 662 C 617.1 657.7 619.6 652.8 623.9 646.2 C 628.2 639.6 639 625.7 643.1 622.5 C 647.3 619.3 649.7 623.8 648.8 627 C 647.8 630.2 640.3 636.6 637.5 641.7 C 634.6 646.8 632.2 652.8 631.8 657.5 C 631.4 662.2 633.1 666.9 635.2 669.9 C 637.3 673 646.1 675.2 644.2 675.6 C 642.4 676 628.4 674.5 623.9 672.2 C 619.4 669.9 617.1 666.4 617.1 662 Z" fill="#000" stroke="none"/>
<path d="M 662.3 624.1 L 669.5 608.2" stroke-width="3.5"/>
<path d="M 680.4 629.3 C 684.2 627.6 694.7 621.7 703 619.1 C 711.3 616.5 720.3 614.4 730.1 613.4 C 739.9 612.5 752 612.5 761.8 613.4 C 771.5 614.4 782.4 617 788.9 619.1 C 795.3 621.2 798.7 624.7 800.6 625.9" stroke-width="5.8"/>
<path d="M 687.2 638.3 C 690.6 636.8 699.6 631.7 707.5 629.3 C 715.4 626.8 725.2 624.6 734.6 623.6 C 744 622.7 756.1 622.7 764 623.6 C 771.9 624.6 777.5 627.5 782.1 629.3 C 786.7 631 790 633.2 791.6 634" stroke-width="5.2"/>
<path d="M 696.2 644 C 699.6 642.6 708.6 638.1 716.6 636 C 724.5 634 735 631.9 743.7 631.5 C 752.3 631.1 762.4 632.6 768.5 633.8 C 774.6 635 778.3 637.7 780.3 638.5" stroke-width="5.2"/>
<path d="M 709.8 646.2 C 712 644.1 724.8 640.3 734.6 638.8 C 744.4 637.3 760.5 637.1 768.5 637.2 C 776.5 637.3 785.9 637.9 782.5 639.4 C 779.2 641 758.4 644.7 748.2 646.7 C 737.9 648.6 727.5 651.3 721.1 651.2 C 714.7 651.1 707.5 648.3 709.8 646.2 Z" fill="#000" stroke="none"/>
<path d="M 694 648.9 C 699.2 649.5 715 652 725.6 652.1 C 736.1 652.2 747.1 650.9 757.2 649.6 C 767.4 648.3 776.8 645.6 786.6 644.4 C 796.4 643.2 811.1 642.5 816 642.1" stroke-width="6.3"/>
<path d="M 666.8 663.6 L 755 654.1 L 786.6 646.2 L 816 642.1" stroke-width="5.8"/>
<path d="M 633.4 660.9 C 630.7 644 644.2 629.5 661.2 629 C 677 629.5 689.4 641.7 690.6 654.1 L 666.8 664.7 L 646.5 672.7 Q 635.2 671.1 633.4 660.9 Z" fill="#fff" stroke-width="4.5"/>
<path d="M 699.6 686.2 L 733.5 670.4 L 741 680.1 L 705.7 695.9 Z" fill="#fff" stroke-width="3.5"/>
<path d="M 262.3 620.7 L 276.4 617.7 L 294.6 610.6 L 351.1 587.4 L 352.3 603.6 L 288.5 633.2 L 280.4 635.2 L 266.3 635.2 Z" fill="#000" stroke="none"/>
<path d="M 230 625.8 L 272.4 617.7 L 288.5 609.6 L 314.7 585.4 L 352.1 568.2 L 352.7 587.4" stroke-width="5.2"/>
<path d="M 1024.9 568.1 C 1028.7 566.1 1040.3 561 1048.1 556.5 C 1055.8 551.9 1064.4 545.5 1071.2 540.8 C 1078.1 536.2 1086.2 530.5 1089.2 528.4" stroke-width="7.5"/>
<path d="M 1042.3 563.2 C 1047.1 560.5 1062.3 552.2 1071.2 547.2 C 1080.2 542.2 1091.8 535.6 1095.9 533.3" stroke-width="5.2"/>
<path d="M 424.1 755.9 C 425.3 753.1 427.5 745.2 431.2 738.8 C 434.9 732.4 440.4 724.5 446.3 717.6 C 452.2 710.7 458.8 703.1 466.5 697.4 C 474.2 691.7 482 687.1 492.7 683.3 C 503.5 679.5 517.9 675.9 531.1 674.6 C 544.2 673.3 559.8 674.2 571.4 675.6 C 583 677.1 592.3 680.1 600.7 683.3 C 609.1 686.5 616.7 691.3 621.9 694.8 C 627.1 698.3 630.3 702.5 632 704.1" stroke-width="9.2"/>
<path d="M 420.5 757.3 C 419.3 753.2 423.4 747.6 427.2 740.8 C 431 734 439.4 720.3 443.3 716.6 C 447.2 712.9 450.9 715.6 450.4 718.6 C 449.9 721.6 442.8 729.7 440.3 734.7 C 437.7 739.8 435.6 744.8 435.2 748.9 C 434.9 752.9 434 756.6 438.2 759 C 442.5 761.3 449.7 763 460.4 763 C 471.2 763 495.4 759 502.8 759 C 510.2 759 511.9 761.5 504.8 763 C 497.8 764.5 472.2 767.6 460.4 768 C 448.7 768.4 440.9 767.2 434.2 765.4 C 427.6 763.6 421.7 761.4 420.5 757.3 Z" fill="#000" stroke="none"/>
<path d="M 606.7 686.3 C 608.1 685.3 619.2 689.9 623.9 692.4 C 628.6 694.9 632.6 698.4 635 701.5 C 637.4 704.5 639.1 707.3 638.4 710.5 C 637.7 713.7 634 717.8 630.9 720.6 C 627.9 723.5 623.5 726.2 619.8 727.7 C 616.1 729.2 609.9 730.9 608.7 729.7 C 607.6 728.5 611.3 723.8 612.8 720.6 C 614.3 717.4 617.3 714.2 617.8 710.5 C 618.3 706.8 617.7 702.5 615.8 698.4 C 614 694.4 605.4 687.3 606.7 686.3 Z" fill="#000" stroke="none"/>
<path d="M 471.5 750.3 C 481.5 748.9 511.7 745.4 531.1 742.2 C 550.4 739 573.1 735.7 587.6 731.1 C 602 726.6 612.8 717.7 617.8 715" stroke-width="6.3"/>
<path d="M 482.6 715.6 C 486.7 713.9 497.4 708.2 506.9 705.5 C 516.3 702.8 528.4 700.3 539.1 699.4 C 549.9 698.6 562.7 699.4 571.4 700.4 C 580.2 701.5 585.8 703.7 591.6 705.5 C 597.4 707.2 603.7 710 606.1 710.9" stroke-width="5.8"/>
<path d="M 488.7 722.6 C 492.4 721.1 502.1 715.9 510.9 713.6 C 519.6 711.2 531.1 709.2 541.2 708.5 C 551.2 707.8 563.7 708.5 571.4 709.5 C 579.2 710.5 583.1 713.2 587.6 714.6 C 592 715.9 596.3 717.3 598.1 717.8" stroke-width="5.2"/>
<path d="M 494.7 729.7 C 498.1 728.4 506.9 723.6 514.9 721.6 C 523 719.6 533.8 718.1 543.2 717.6 C 552.6 717.1 564.3 717.9 571.4 718.6 C 578.5 719.3 583.5 721.3 585.9 721.8" stroke-width="5.8"/>
<path d="M 496.8 731.1 L 514.9 725.7 L 539.1 723 L 571.4 724.3 L 587.6 722.2 L 599.7 718.6 L 615.8 715 L 587.6 731.1 L 531.1 741.2 L 498.8 739.2 Z" fill="#000" stroke="none"/>
<path d="M 524 732.3 L 539.1 725.1 L 573 725.9 L 529 732.7 Z" fill="#fff" stroke-width="0"/>
<path d="M 458.4 711.5 L 468.5 698.4 M 465.5 710.5 L 468.9 698.4" stroke-width="3.5"/>
<path d="M 436.2 751.9 C 433.8 734.7 448.3 715 466.5 714.6 C 480.6 715 493.1 726.7 494.7 739.8 L 470.5 750.9 L 450.4 756.3 Q 438.2 756.5 436.2 751.9 Z" fill="#fff" stroke-width="4.5"/>
<path d="M 818.2 575.9 C 819.3 573.1 821 565.5 825.2 558.8 C 829.4 552.1 836.2 542.6 843.4 535.6 C 850.6 528.6 857.7 522 868.6 516.8 C 879.5 511.6 898.9 506.8 909 504.3 C 919 501.8 920.4 502.3 929.1 501.9 C 937.9 501.5 950.8 501.1 961.4 501.9 C 972 502.7 984.3 504.1 992.7 506.7 C 1001.1 509.3 1006.8 513.8 1011.9 517.4 C 1016.9 521 1020.9 525 1023 528.5 C 1025 532 1024.1 536.9 1024.4 538.6" stroke-width="9.2"/>
<path d="M 814.1 577.9 C 813.1 573.4 816 567.1 820.2 559.8 C 824.4 552.5 834.9 537.6 839.3 534.2 C 843.8 530.7 847.6 535.2 846.8 539 C 846 542.8 837.7 550.8 834.7 556.8 C 831.7 562.7 828.9 570.6 828.7 574.9 C 828.4 579.3 829.7 581 833.3 583 C 836.9 584.9 839.5 586.9 850.4 586.6 C 861.4 586.4 890.7 581.5 898.9 581.4 C 907 581.3 907.3 584.4 899.3 586 C 891.2 587.6 862.6 590.9 850.4 591.1 C 838.3 591.2 832.3 589.2 826.2 587 C 820.2 584.8 815.1 582.5 814.1 577.9 Z" fill="#000" stroke="none"/>
<path d="M 998.7 511.4 C 999.8 510.2 1009.1 512.5 1013.9 515.4 C 1018.7 518.3 1025.3 524.3 1027.6 528.5 C 1029.9 532.7 1029.5 536.6 1027.6 540.6 C 1025.7 544.7 1020.6 549.6 1016.3 552.7 C 1012 555.8 1006.9 558 1001.8 559.2 C 996.7 560.4 985.6 561.2 985.6 559.8 C 985.6 558.4 997.7 554.6 1001.8 550.7 C 1005.8 546.8 1008.8 541.3 1009.8 536.6 C 1010.9 531.9 1009.7 526.7 1007.8 522.5 C 1006 518.3 997.7 512.5 998.7 511.4 Z" fill="#000" stroke="none"/>
<path d="M 852.5 538.6 L 864.6 522.5 M 858.9 537.6 L 867 521.5" stroke-width="3.5"/>
<path d="M 874.7 541.6 C 879.7 539.9 896.9 533.7 904.9 531.5 C 913 529.4 915 529.4 923.1 528.5 C 931.2 527.7 943.6 526.2 953.3 526.5 C 963.1 526.8 974.1 528.6 981.6 530.5 C 989.1 532.4 995.4 536.6 998.1 537.8" stroke-width="6.3"/>
<path d="M 880.7 548.7 C 884.7 547.5 897.9 543.5 904.9 541.6 C 912 539.8 915.3 538.6 923.1 537.6 C 930.8 536.6 942.9 535.2 951.3 535.6 C 959.7 535.9 967.4 537.9 973.5 539.6 C 979.6 541.3 985.6 544.8 988.1 545.9" stroke-width="5.8"/>
<path d="M 886.8 555.8 C 889.5 554.7 897.2 551 902.9 549.7 C 908.6 548.4 913.3 548.4 921.1 547.7 C 928.8 547 941.6 545.7 949.3 545.7 C 957 545.7 962.4 546.8 967.5 547.7 C 972.6 548.5 977.9 550.2 980 550.7" stroke-width="6.3"/>
<path d="M 918 554.7 L 949.3 550.7 L 969.5 552.7 L 985.6 558.8 L 1001.8 558.8 L 1009.8 562.8 L 981.6 565.2 L 953.3 569.3 L 918 572.9 Z" fill="#000" stroke="none"/>
<path d="M 864.6 577.3 L 900.9 571.3" stroke-width="7.5"/>
<path d="M 864.6 580.6 L 898.9 576.3" stroke-width="4"/>
<path d="M 917 575.3 L 953.3 569.3" stroke-width="4"/>
<path d="M 830.3 579 C 828.2 558.8 844.4 543 860.5 543.6 C 874.7 544.7 885.8 554.7 887.2 564.8 L 864.6 576.5 L 846.4 585.4 Q 833.3 585 830.3 579 Z" fill="#fff" stroke-width="4.5"/>
<path d="M 835.7 467 L 852.7 467 L 856 474.9 L 836.8 476 Z" fill="#000" stroke="none"/>
<path d="M 760 396.9 C 761.9 397.3 767.8 398.3 771.3 399.2 C 774.8 400.2 780.3 401.1 780.8 402.6 C 781.2 404.1 777.5 407.1 774 408.5 C 770.5 409.8 762.3 410.4 760 410.7" stroke-width="4.6"/>
<path d="M 780.8 402.6 C 782.2 401.9 786.4 398.7 789.4 398.5 C 792.3 398.3 797.7 400 798.4 401.5 C 799.2 402.9 794.7 406.2 793.9 407.1" stroke-width="4.6"/>
<path d="M 918.2 446 L 857.2 473.1" stroke-width="6.3"/>
<path d="M 909.2 459.1 C 910.3 459.5 915.1 459.2 915.9 461.8 C 916.8 464.4 915.9 472 914.1 474.9 C 912.3 477.9 907.3 477.6 905.1 479.4 C 902.8 481.3 899.9 484.3 900.6 486.2 C 901.2 488.2 907.7 490.4 909.2 491.2" stroke-width="5.8"/>
<path d="M 364 708.5 L 437.5 786.5" stroke-width="5.9"/>
<path d="M 364.9 400 L 356.2 660" stroke="#fff" stroke-width="15" stroke-linecap="butt"/>
<path d="M 528.4 400 L 524.8 630" stroke="#fff" stroke-width="15" stroke-linecap="butt"/>
<path d="M 697.6 300 L 713.3 595" stroke="#fff" stroke-width="15" stroke-linecap="butt"/>
<path d="M 943.7 330 L 909 585" stroke="#fff" stroke-width="16" stroke-linecap="butt"/>
<path d="M 189.2 258 L 113.5 662.5" stroke-width="5" stroke-linecap="butt"/>
<path d="M 369.5 264 L 355.5 681" stroke-width="5" stroke-linecap="butt"/>
<path d="M 530.5 262 L 524.6 644" stroke-width="5" stroke-linecap="butt"/>
<path d="M 695.6 262.6 L 713.9 607" stroke-width="5" stroke-linecap="butt"/>
<path d="M 953 260.7 L 907.3 598" stroke-width="5" stroke-linecap="butt"/>
</g>
<g class="lbl">
<clipPath id="c1"><path d="M0 -50H40V-5.4H20.6V2H13.4V-5.4H0Z"/></clipPath>
<text clip-path="url(#c1)" transform="translate(173.2,238.4) scale(1.2,1)">1</text>
<text transform="translate(351.8,243.8) scale(1.10,1)">2</text>
<text transform="translate(511.8,244.4) scale(1.07,1)">3</text>
<text transform="translate(673.4,247.1) scale(0.995,1)">4</text>
<text transform="translate(935.8,247.4) scale(1.03,1)">5</text>
</g>
</svg>
</body></html>
